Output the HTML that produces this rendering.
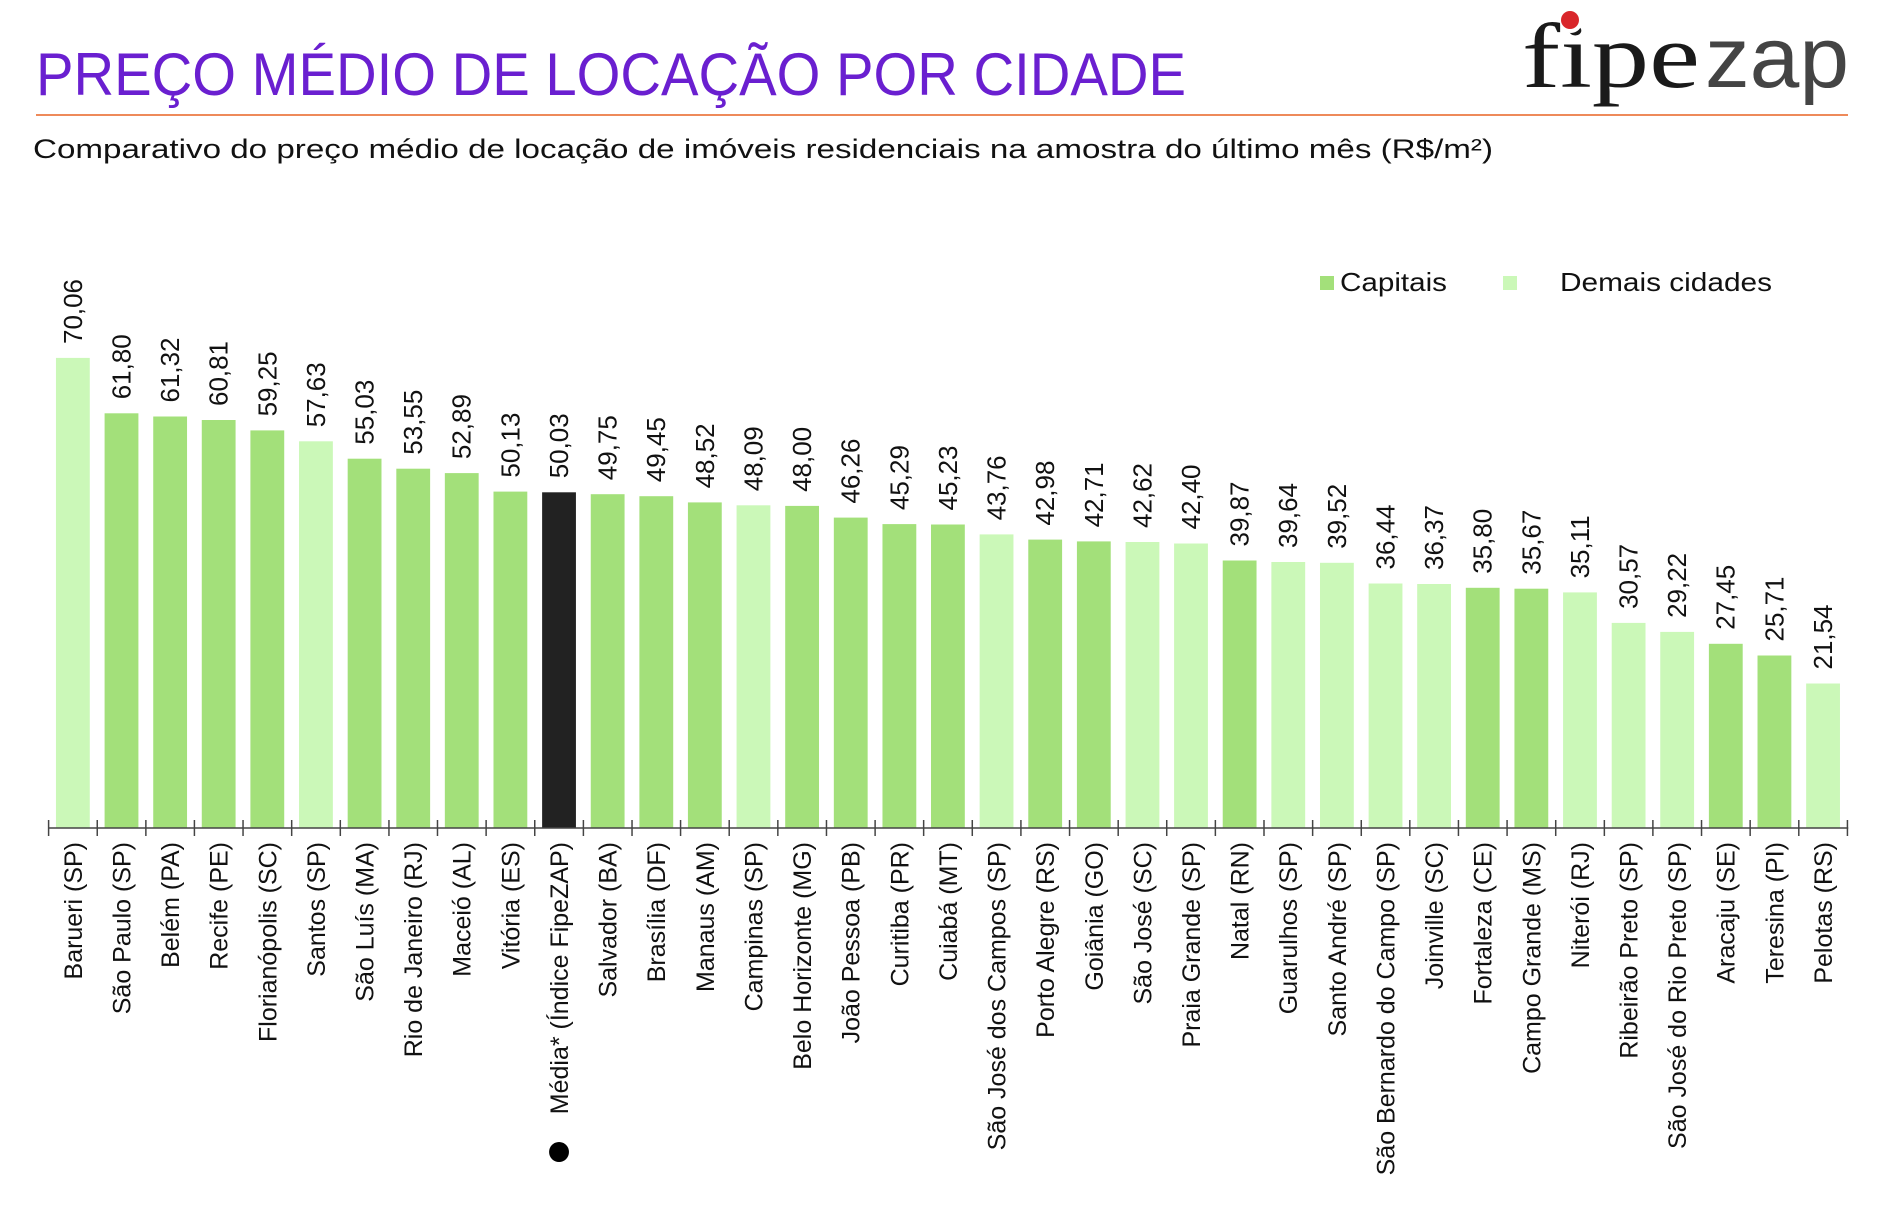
<!DOCTYPE html>
<html><head><meta charset="utf-8"><style>
html,body{margin:0;padding:0;background:#fff;}
svg{display:block;font-family:"Liberation Sans",sans-serif;}
.v{font-size:26px;fill:#111;}
.c{font-size:25px;fill:#111;text-anchor:end;}
</style></head><body>
<svg width="1894" height="1230" viewBox="0 0 1894 1230" xmlns="http://www.w3.org/2000/svg">
<rect width="1894" height="1230" fill="#fff"/>
<text x="36" y="95" font-size="60" fill="#6a1fd0" textLength="1150" lengthAdjust="spacingAndGlyphs">PREÇO MÉDIO DE LOCAÇÃO POR CIDADE</text>
<line x1="36" y1="115" x2="1848" y2="115" stroke="#ee8a5a" stroke-width="2"/>
<text x="33" y="158" font-size="27" fill="#111" textLength="1460" lengthAdjust="spacingAndGlyphs">Comparativo do preço médio de locação de imóveis residenciais na amostra do último mês (R$/m²)</text>
<text x="1522" y="87" font-family="Liberation Serif,serif" font-size="92" fill="#1a1a1a" textLength="178" lengthAdjust="spacingAndGlyphs">fipe</text>
<circle cx="1571" cy="22" r="11" fill="#fff"/>
<circle cx="1570" cy="20" r="9" fill="#d9262a"/>
<text x="1705" y="87" font-size="86" fill="#444" textLength="144" lengthAdjust="spacingAndGlyphs">zap</text>
<rect x="1320" y="276" width="14" height="14" fill="#a3e07a"/>
<text x="1340" y="291" font-size="26" fill="#111" textLength="107" lengthAdjust="spacingAndGlyphs">Capitais</text>
<rect x="1503" y="276" width="14" height="14" fill="#cbf8b8"/>
<text x="1560" y="291" font-size="26" fill="#111" textLength="212" lengthAdjust="spacingAndGlyphs">Demais cidades</text>

<g transform="translate(0.26,-4) scale(0.9946,1)">
<g transform="translate(73,832)"><rect x="-17" y="-470.1" width="34" height="470.1" fill="#cbf8b8"/><text class="v" transform="translate(9,-484) rotate(-90)">70,06</text><text class="c" transform="translate(9,14) rotate(-90)">Barueri (SP)</text></g>
<g transform="translate(121.9,832)"><rect x="-17" y="-414.7" width="34" height="414.7" fill="#a3e07a"/><text class="v" transform="translate(9,-428.7) rotate(-90)">61,80</text><text class="c" transform="translate(9,14) rotate(-90)">São Paulo (SP)</text></g>
<g transform="translate(170.8,832)"><rect x="-17" y="-411.5" width="34" height="411.5" fill="#a3e07a"/><text class="v" transform="translate(9,-425.5) rotate(-90)">61,32</text><text class="c" transform="translate(9,14) rotate(-90)">Belém (PA)</text></g>
<g transform="translate(219.6,832)"><rect x="-17" y="-408" width="34" height="408" fill="#a3e07a"/><text class="v" transform="translate(9,-422) rotate(-90)">60,81</text><text class="c" transform="translate(9,14) rotate(-90)">Recife (PE)</text></g>
<g transform="translate(268.5,832)"><rect x="-17" y="-397.6" width="34" height="397.6" fill="#a3e07a"/><text class="v" transform="translate(9,-411.6) rotate(-90)">59,25</text><text class="c" transform="translate(9,14) rotate(-90)">Florianópolis (SC)</text></g>
<g transform="translate(317.4,832)"><rect x="-17" y="-386.7" width="34" height="386.7" fill="#cbf8b8"/><text class="v" transform="translate(9,-400.7) rotate(-90)">57,63</text><text class="c" transform="translate(9,14) rotate(-90)">Santos (SP)</text></g>
<g transform="translate(366.3,832)"><rect x="-17" y="-369.3" width="34" height="369.3" fill="#a3e07a"/><text class="v" transform="translate(9,-383.3) rotate(-90)">55,03</text><text class="c" transform="translate(9,14) rotate(-90)">São Luís (MA)</text></g>
<g transform="translate(415.2,832)"><rect x="-17" y="-359.3" width="34" height="359.3" fill="#a3e07a"/><text class="v" transform="translate(9,-373.3) rotate(-90)">53,55</text><text class="c" transform="translate(9,14) rotate(-90)">Rio de Janeiro (RJ)</text></g>
<g transform="translate(464,832)"><rect x="-17" y="-354.9" width="34" height="354.9" fill="#a3e07a"/><text class="v" transform="translate(9,-368.9) rotate(-90)">52,89</text><text class="c" transform="translate(9,14) rotate(-90)">Maceió (AL)</text></g>
<g transform="translate(512.9,832)"><rect x="-17" y="-336.4" width="34" height="336.4" fill="#a3e07a"/><text class="v" transform="translate(9,-350.4) rotate(-90)">50,13</text><text class="c" transform="translate(9,14) rotate(-90)">Vitória (ES)</text></g>
<g transform="translate(561.8,832)"><rect x="-17" y="-335.7" width="34" height="335.7" fill="#222"/><text class="v" transform="translate(9,-349.7) rotate(-90)">50,03</text><text class="c" transform="translate(9,14) rotate(-90)">Média* (Índice FipeZAP)</text><circle cx="0" cy="324" r="10" fill="#000"/></g>
<g transform="translate(610.7,832)"><rect x="-17" y="-333.8" width="34" height="333.8" fill="#a3e07a"/><text class="v" transform="translate(9,-347.8) rotate(-90)">49,75</text><text class="c" transform="translate(9,14) rotate(-90)">Salvador (BA)</text></g>
<g transform="translate(659.6,832)"><rect x="-17" y="-331.8" width="34" height="331.8" fill="#a3e07a"/><text class="v" transform="translate(9,-345.8) rotate(-90)">49,45</text><text class="c" transform="translate(9,14) rotate(-90)">Brasília (DF)</text></g>
<g transform="translate(708.4,832)"><rect x="-17" y="-325.6" width="34" height="325.6" fill="#a3e07a"/><text class="v" transform="translate(9,-339.6) rotate(-90)">48,52</text><text class="c" transform="translate(9,14) rotate(-90)">Manaus (AM)</text></g>
<g transform="translate(757.3,832)"><rect x="-17" y="-322.7" width="34" height="322.7" fill="#cbf8b8"/><text class="v" transform="translate(9,-336.7) rotate(-90)">48,09</text><text class="c" transform="translate(9,14) rotate(-90)">Campinas (SP)</text></g>
<g transform="translate(806.2,832)"><rect x="-17" y="-322.1" width="34" height="322.1" fill="#a3e07a"/><text class="v" transform="translate(9,-336.1) rotate(-90)">48,00</text><text class="c" transform="translate(9,14) rotate(-90)">Belo Horizonte (MG)</text></g>
<g transform="translate(855.1,832)"><rect x="-17" y="-310.4" width="34" height="310.4" fill="#a3e07a"/><text class="v" transform="translate(9,-324.4) rotate(-90)">46,26</text><text class="c" transform="translate(9,14) rotate(-90)">João Pessoa (PB)</text></g>
<g transform="translate(904,832)"><rect x="-17" y="-303.9" width="34" height="303.9" fill="#a3e07a"/><text class="v" transform="translate(9,-317.9) rotate(-90)">45,29</text><text class="c" transform="translate(9,14) rotate(-90)">Curitiba (PR)</text></g>
<g transform="translate(952.8,832)"><rect x="-17" y="-303.5" width="34" height="303.5" fill="#a3e07a"/><text class="v" transform="translate(9,-317.5) rotate(-90)">45,23</text><text class="c" transform="translate(9,14) rotate(-90)">Cuiabá (MT)</text></g>
<g transform="translate(1001.7,832)"><rect x="-17" y="-293.6" width="34" height="293.6" fill="#cbf8b8"/><text class="v" transform="translate(9,-307.6) rotate(-90)">43,76</text><text class="c" transform="translate(9,14) rotate(-90)">São José dos Campos (SP)</text></g>
<g transform="translate(1050.6,832)"><rect x="-17" y="-288.4" width="34" height="288.4" fill="#a3e07a"/><text class="v" transform="translate(9,-302.4) rotate(-90)">42,98</text><text class="c" transform="translate(9,14) rotate(-90)">Porto Alegre (RS)</text></g>
<g transform="translate(1099.5,832)"><rect x="-17" y="-286.6" width="34" height="286.6" fill="#a3e07a"/><text class="v" transform="translate(9,-300.6) rotate(-90)">42,71</text><text class="c" transform="translate(9,14) rotate(-90)">Goiânia (GO)</text></g>
<g transform="translate(1148.4,832)"><rect x="-17" y="-286" width="34" height="286" fill="#cbf8b8"/><text class="v" transform="translate(9,-300) rotate(-90)">42,62</text><text class="c" transform="translate(9,14) rotate(-90)">São José (SC)</text></g>
<g transform="translate(1197.2,832)"><rect x="-17" y="-284.5" width="34" height="284.5" fill="#cbf8b8"/><text class="v" transform="translate(9,-298.5) rotate(-90)">42,40</text><text class="c" transform="translate(9,14) rotate(-90)">Praia Grande (SP)</text></g>
<g transform="translate(1246.1,832)"><rect x="-17" y="-267.5" width="34" height="267.5" fill="#a3e07a"/><text class="v" transform="translate(9,-281.5) rotate(-90)">39,87</text><text class="c" transform="translate(9,14) rotate(-90)">Natal (RN)</text></g>
<g transform="translate(1295,832)"><rect x="-17" y="-266" width="34" height="266" fill="#cbf8b8"/><text class="v" transform="translate(9,-280) rotate(-90)">39,64</text><text class="c" transform="translate(9,14) rotate(-90)">Guarulhos (SP)</text></g>
<g transform="translate(1343.9,832)"><rect x="-17" y="-265.2" width="34" height="265.2" fill="#cbf8b8"/><text class="v" transform="translate(9,-279.2) rotate(-90)">39,52</text><text class="c" transform="translate(9,14) rotate(-90)">Santo André (SP)</text></g>
<g transform="translate(1392.8,832)"><rect x="-17" y="-244.5" width="34" height="244.5" fill="#cbf8b8"/><text class="v" transform="translate(9,-258.5) rotate(-90)">36,44</text><text class="c" transform="translate(9,14) rotate(-90)">São Bernardo do Campo (SP)</text></g>
<g transform="translate(1441.6,832)"><rect x="-17" y="-244" width="34" height="244" fill="#cbf8b8"/><text class="v" transform="translate(9,-258) rotate(-90)">36,37</text><text class="c" transform="translate(9,14) rotate(-90)">Joinville (SC)</text></g>
<g transform="translate(1490.5,832)"><rect x="-17" y="-240.2" width="34" height="240.2" fill="#a3e07a"/><text class="v" transform="translate(9,-254.2) rotate(-90)">35,80</text><text class="c" transform="translate(9,14) rotate(-90)">Fortaleza (CE)</text></g>
<g transform="translate(1539.4,832)"><rect x="-17" y="-239.3" width="34" height="239.3" fill="#a3e07a"/><text class="v" transform="translate(9,-253.3) rotate(-90)">35,67</text><text class="c" transform="translate(9,14) rotate(-90)">Campo Grande (MS)</text></g>
<g transform="translate(1588.3,832)"><rect x="-17" y="-235.6" width="34" height="235.6" fill="#cbf8b8"/><text class="v" transform="translate(9,-249.6) rotate(-90)">35,11</text><text class="c" transform="translate(9,14) rotate(-90)">Niterói (RJ)</text></g>
<g transform="translate(1637.2,832)"><rect x="-17" y="-205.1" width="34" height="205.1" fill="#cbf8b8"/><text class="v" transform="translate(9,-219.1) rotate(-90)">30,57</text><text class="c" transform="translate(9,14) rotate(-90)">Ribeirão Preto (SP)</text></g>
<g transform="translate(1686,832)"><rect x="-17" y="-196.1" width="34" height="196.1" fill="#cbf8b8"/><text class="v" transform="translate(9,-210.1) rotate(-90)">29,22</text><text class="c" transform="translate(9,14) rotate(-90)">São José do Rio Preto (SP)</text></g>
<g transform="translate(1734.9,832)"><rect x="-17" y="-184.2" width="34" height="184.2" fill="#a3e07a"/><text class="v" transform="translate(9,-198.2) rotate(-90)">27,45</text><text class="c" transform="translate(9,14) rotate(-90)">Aracaju (SE)</text></g>
<g transform="translate(1783.8,832)"><rect x="-17" y="-172.5" width="34" height="172.5" fill="#a3e07a"/><text class="v" transform="translate(9,-186.5) rotate(-90)">25,71</text><text class="c" transform="translate(9,14) rotate(-90)">Teresina (PI)</text></g>
<g transform="translate(1832.7,832)"><rect x="-17" y="-144.5" width="34" height="144.5" fill="#cbf8b8"/><text class="v" transform="translate(9,-158.5) rotate(-90)">21,54</text><text class="c" transform="translate(9,14) rotate(-90)">Pelotas (RS)</text></g>

<line x1="48" y1="832" x2="1858" y2="832" stroke="#444" stroke-width="1.5"/>
<g stroke="#444" stroke-width="1.5">
<line x1="48.6" y1="824" x2="48.6" y2="840"/><line x1="97.5" y1="824" x2="97.5" y2="840"/><line x1="146.4" y1="824" x2="146.4" y2="840"/><line x1="195.2" y1="824" x2="195.2" y2="840"/><line x1="244.1" y1="824" x2="244.1" y2="840"/><line x1="293" y1="824" x2="293" y2="840"/><line x1="341.9" y1="824" x2="341.9" y2="840"/><line x1="390.8" y1="824" x2="390.8" y2="840"/><line x1="439.6" y1="824" x2="439.6" y2="840"/><line x1="488.5" y1="824" x2="488.5" y2="840"/><line x1="537.4" y1="824" x2="537.4" y2="840"/><line x1="586.3" y1="824" x2="586.3" y2="840"/><line x1="635.2" y1="824" x2="635.2" y2="840"/><line x1="684" y1="824" x2="684" y2="840"/><line x1="732.9" y1="824" x2="732.9" y2="840"/><line x1="781.8" y1="824" x2="781.8" y2="840"/><line x1="830.7" y1="824" x2="830.7" y2="840"/><line x1="879.6" y1="824" x2="879.6" y2="840"/><line x1="928.4" y1="824" x2="928.4" y2="840"/><line x1="977.3" y1="824" x2="977.3" y2="840"/><line x1="1026.2" y1="824" x2="1026.2" y2="840"/><line x1="1075.1" y1="824" x2="1075.1" y2="840"/><line x1="1124" y1="824" x2="1124" y2="840"/><line x1="1172.8" y1="824" x2="1172.8" y2="840"/><line x1="1221.7" y1="824" x2="1221.7" y2="840"/><line x1="1270.6" y1="824" x2="1270.6" y2="840"/><line x1="1319.5" y1="824" x2="1319.5" y2="840"/><line x1="1368.4" y1="824" x2="1368.4" y2="840"/><line x1="1417.2" y1="824" x2="1417.2" y2="840"/><line x1="1466.1" y1="824" x2="1466.1" y2="840"/><line x1="1515" y1="824" x2="1515" y2="840"/><line x1="1563.9" y1="824" x2="1563.9" y2="840"/><line x1="1612.8" y1="824" x2="1612.8" y2="840"/><line x1="1661.6" y1="824" x2="1661.6" y2="840"/><line x1="1710.5" y1="824" x2="1710.5" y2="840"/><line x1="1759.4" y1="824" x2="1759.4" y2="840"/><line x1="1808.3" y1="824" x2="1808.3" y2="840"/><line x1="1857.2" y1="824" x2="1857.2" y2="840"/>
</g>
</g>
</svg>
</body></html>
